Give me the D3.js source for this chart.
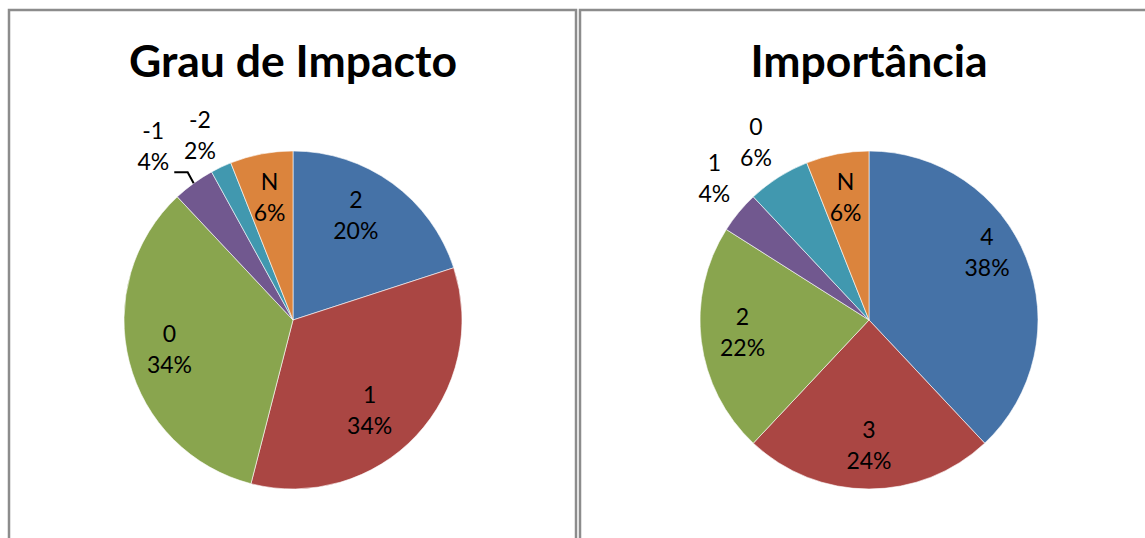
<!DOCTYPE html>
<html>
<head>
<meta charset="utf-8">
<script src="https://cdn.jsdelivr.net/npm/d3@7"></script>
<style>
  html, body { margin: 0; padding: 0; background: #fff; }
  svg { display: block; }
  text { font-family: Lato, "Open Sans", sans-serif; fill: #000; }
</style>
</head>
<body>
<svg id="chart" width="1145" height="538"></svg>
<script>
// Survey results: impact degree and importance
const impactLabels = ["2", "1", "0", "-1", "-2", "N"];
const impactValues = [20, 34, 34, 4, 2, 6];

const importanceLabels = ["4", "3", "2", "1", "0", "N"];
const importanceValues = [38, 24, 22, 4, 6, 6];

const sliceColors = ["#4572A7", "#AA4643", "#89A54E", "#71588F", "#4198AF", "#DB843D"];

const titles = ["Grau de Impacto", "Importância"];

const svg = d3.select("#chart");

// chart frames
const frames = [
  { x: 9, y: 10, w: 567, h: 540 },
  { x: 580, y: 10, w: 580, h: 540 }
];
frames.forEach(f => {
  svg.append("rect")
    .attr("x", f.x).attr("y", f.y)
    .attr("width", f.w).attr("height", f.h)
    .attr("fill", "none")
    .attr("stroke", "#8c8c8c")
    .attr("stroke-width", 2.5);
});

const radius = 169;
const insideR = 125;
const deg = Math.PI / 180;

function drawPie(cx, cy, title, labels, values, tweaks) {
  const g = svg.append("g").attr("transform", `translate(${cx},${cy})`);
  const data = labels.map((l, i) => ({ label: l, value: values[i], color: sliceColors[i] }));
  const pie = d3.pie().value(d => d.value).sort(null);
  const arcs = pie(data);
  const arc = d3.arc().innerRadius(0).outerRadius(radius);

  g.selectAll("path.slice").data(arcs).join("path")
    .attr("class", "slice")
    .attr("d", arc)
    .attr("fill", d => d.data.color)
    .attr("stroke", "#fff")
    .attr("stroke-width", 0.6);

  svg.append("text")
    .attr("x", cx).attr("y", 77)
    .attr("text-anchor", "middle")
    .attr("font-size", 44.5)
    .attr("font-weight", "bold")
    .text(title);

  arcs.forEach(a => {
    const t = tweaks[a.data.label] || {};
    const midSlice = (a.startAngle + a.endAngle) / 2;
    const mid = midSlice + (t.da || 0) * deg;
    const r = t.r || insideR;
    const x = Math.sin(mid) * r;
    const y = -Math.cos(mid) * r;
    const txt = g.append("text")
      .attr("text-anchor", "middle")
      .attr("font-size", 23);
    txt.append("tspan").attr("x", x).attr("y", y - 7).text(a.data.label);
    txt.append("tspan").attr("x", x).attr("y", y + 24).text(Math.round(a.data.value) + "%");
    if (t.leader) {
      // leader from the label to the middle of the slice edge
      const p1 = [Math.sin(midSlice) * radius, -Math.cos(midSlice) * radius];
      const ly = y + 26;
      g.append("polyline")
        .attr("points", [[x + 21, ly], [p1[0] - 6, ly], p1].map(p => p.join(",")).join(" "))
        .attr("fill", "none")
        .attr("stroke", "#000")
        .attr("stroke-width", 2);
    }
  });
}

drawPie(293, 320, titles[0], impactLabels, impactValues, {
  "2": { da: -5, r: 122 },
  "1": { da: 6.3, r: 118 },
  "0": { da: 1, r: 127 },
  "-1": { da: -2.8, r: 223, leader: true },
  "-2": { da: -1.5, r: 207 }
});
drawPie(869, 320, titles[1], importanceLabels, importanceValues, {
  "4": { da: -8.2, r: 136 },
  "2": { da: 2, r: 127 },
  "1": { da: 3, r: 210 },
  "0": { r: 211 }
});
</script>
</body>
</html>
